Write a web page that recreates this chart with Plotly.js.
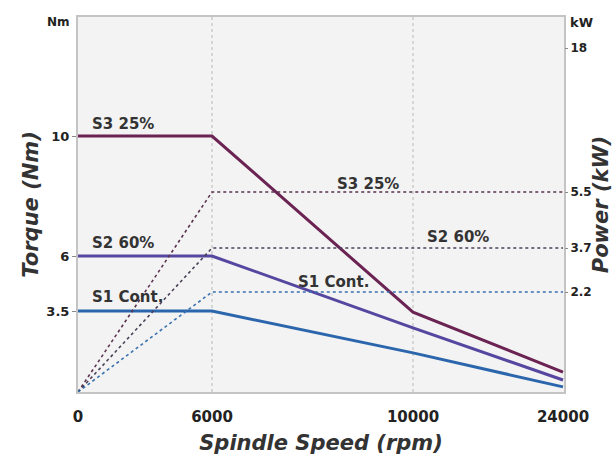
<!DOCTYPE html>
<html><head><meta charset="utf-8">
<script src="https://cdn.plot.ly/plotly-3.0.1.min.js"></script>
<style>html,body{margin:0;padding:0;background:#fff}#chart{width:613px;height:455px}</style>
</head><body><div id="chart"></div>
<script>
// ---- data ----
const speedRpm = [0, 6000, 10000, 24000];
const torqueS3 = [10, 10, 3.45, 0.86];
const torqueS2 = [6, 6, 2.77, 0.52];
const torqueS1 = [3.5, 3.5, 1.69, 0.22];
const powerRpm = [0, 6000, 24000];
const powerS3 = [0, 5.5, 5.5];
const powerS2 = [0, 3.7, 3.7];
const powerS1 = [0, 2.2, 2.2];
const speedTicks = [0, 6000, 10000, 24000];
const speedTickText = ['0', '6000', '10000', '24000'];
const torqueTicks = [3.5, 6, 10];
const torqueTickText = ['3.5', '6', '10'];
const powerTicks = [2.2, 3.7, 5.5, 18];
const powerTickText = ['2.2', '3.7', '5.5', '18'];

// ---- axis calibration: the reference axes are piecewise (non-linear) ----
const speedBreaks = [0, 6000, 10000, 24000];
const speedAxisPos = [0, 134, 335, 485];
const torqueBreaks = [0, 3.5, 6, 10, 14];
const torqueAxisPos = [0, 81, 136, 256, 376];
const powerBreaks = [0, 2.2, 3.7, 5.5, 18, 20.7];
const powerAxisPos = [0, 100, 144, 200, 344, 375];

function piecewise(v, br, pos) {
  for (let i = 0; i < br.length - 1; i++) {
    if (v <= br[i + 1] || i === br.length - 2) {
      const t = (v - br[i]) / (br[i + 1] - br[i]);
      return pos[i] + t * (pos[i + 1] - pos[i]);
    }
  }
}
const sx = a => a.map(v => piecewise(v, speedBreaks, speedAxisPos));
const ty = a => a.map(v => piecewise(v, torqueBreaks, torqueAxisPos));
const py = a => a.map(v => piecewise(v, powerBreaks, powerAxisPos));

const FONT = 'DejaVu Sans';
const cS3 = '#6a2352', cS2 = '#5646a0', cS1 = '#2b66ad';

const traces = [
  {x: sx(powerRpm), y: py(powerS3), yaxis: 'y2', mode: 'lines', line: {color: '#5a3350', width: 1.6, dash: 'dot'}, name: 'P S3', hoverinfo: 'skip'},
  {x: sx(powerRpm), y: py(powerS2), yaxis: 'y2', mode: 'lines', line: {color: '#4a4058', width: 1.6, dash: 'dot'}, name: 'P S2', hoverinfo: 'skip'},
  {x: sx(powerRpm), y: py(powerS1), yaxis: 'y2', mode: 'lines', line: {color: '#3a72b0', width: 1.6, dash: 'dot'}, name: 'P S1', hoverinfo: 'skip'},
  {x: sx(speedRpm), y: ty(torqueS1), mode: 'lines', line: {color: cS1, width: 3}, name: 'S1 Cont.'},
  {x: sx(speedRpm), y: ty(torqueS2), mode: 'lines', line: {color: cS2, width: 3}, name: 'S2 60%'},
  {x: sx(speedRpm), y: ty(torqueS3), mode: 'lines', line: {color: cS3, width: 3}, name: 'S3 25%'}
];

const tickFont = s => ({family: FONT, size: s, weight: 'bold', color: '#222'});
const titleFont = {family: FONT, size: 21, weight: 'bold', style: 'italic', color: '#333'};
const lblFont = {family: FONT, size: 15, weight: 'bold', color: '#333'};

const ann = (text, x, y, xanchor) => ({text, x, y, xref: 'x', yref: 'y', xanchor: xanchor || 'center', yanchor: 'middle', showarrow: false, font: lblFont});

const layout = {
  width: 613, height: 455,
  margin: {l: 78, r: 49, t: 17, b: 63},
  paper_bgcolor: '#ffffff', plot_bgcolor: '#f3f3f3',
  showlegend: false,
  xaxis: {
    range: [0, 486], tickvals: sx(speedTicks), ticktext: speedTickText,
    showgrid: true, gridcolor: '#d6d6d6', griddash: 'dot', gridwidth: 1.5,
    zeroline: false, showline: true, mirror: true, linecolor: '#c4c4c4', linewidth: 2,
    ticks: '', ticklabelstandoff: 10, tickfont: tickFont(15),
    title: {text: 'Spindle Speed (rpm)', font: titleFont, standoff: 13}
  },
  yaxis: {
    range: [0, 375], tickvals: ty(torqueTicks), ticktext: torqueTickText,
    showgrid: false, zeroline: false, showline: true, mirror: true, linecolor: '#c4c4c4', linewidth: 2,
    ticks: 'outside', ticklen: 4, tickcolor: '#8a8a8a', tickfont: tickFont(13),
    title: {text: 'Torque (Nm)', font: titleFont, standoff: 2}
  },
  yaxis2: {
    overlaying: 'y', side: 'right',
    range: [0, 375], tickvals: py(powerTicks), ticktext: powerTickText,
    showgrid: false, zeroline: false, showline: false,
    ticks: 'outside', ticklen: 3, tickcolor: '#8a8a8a', tickfont: tickFont(12),
    title: {text: 'Power (kW)', font: titleFont, standoff: 7}
  },
  annotations: [
    {text: 'Nm', xref: 'paper', yref: 'y', x: -0.04, y: 370, xanchor: 'center', yanchor: 'middle', showarrow: false, font: tickFont(12)},
    {text: 'kW', xref: 'paper', yref: 'y', x: 1.008, y: 370, xanchor: 'left', yanchor: 'middle', showarrow: false, font: tickFont(13)},
    ann('S3 25%', 12, 268, 'left'),
    ann('S2 60%', 12, 149, 'left'),
    ann('S1 Cont.', 12, 95, 'left'),
    ann('S3 25%', 290, 208),
    ann('S2 60%', 380, 155),
    ann('S1 Cont.', 255, 110)
  ]
};

Plotly.newPlot('chart', traces, layout, {displayModeBar: false, staticPlot: true});
</script>
</body></html>
